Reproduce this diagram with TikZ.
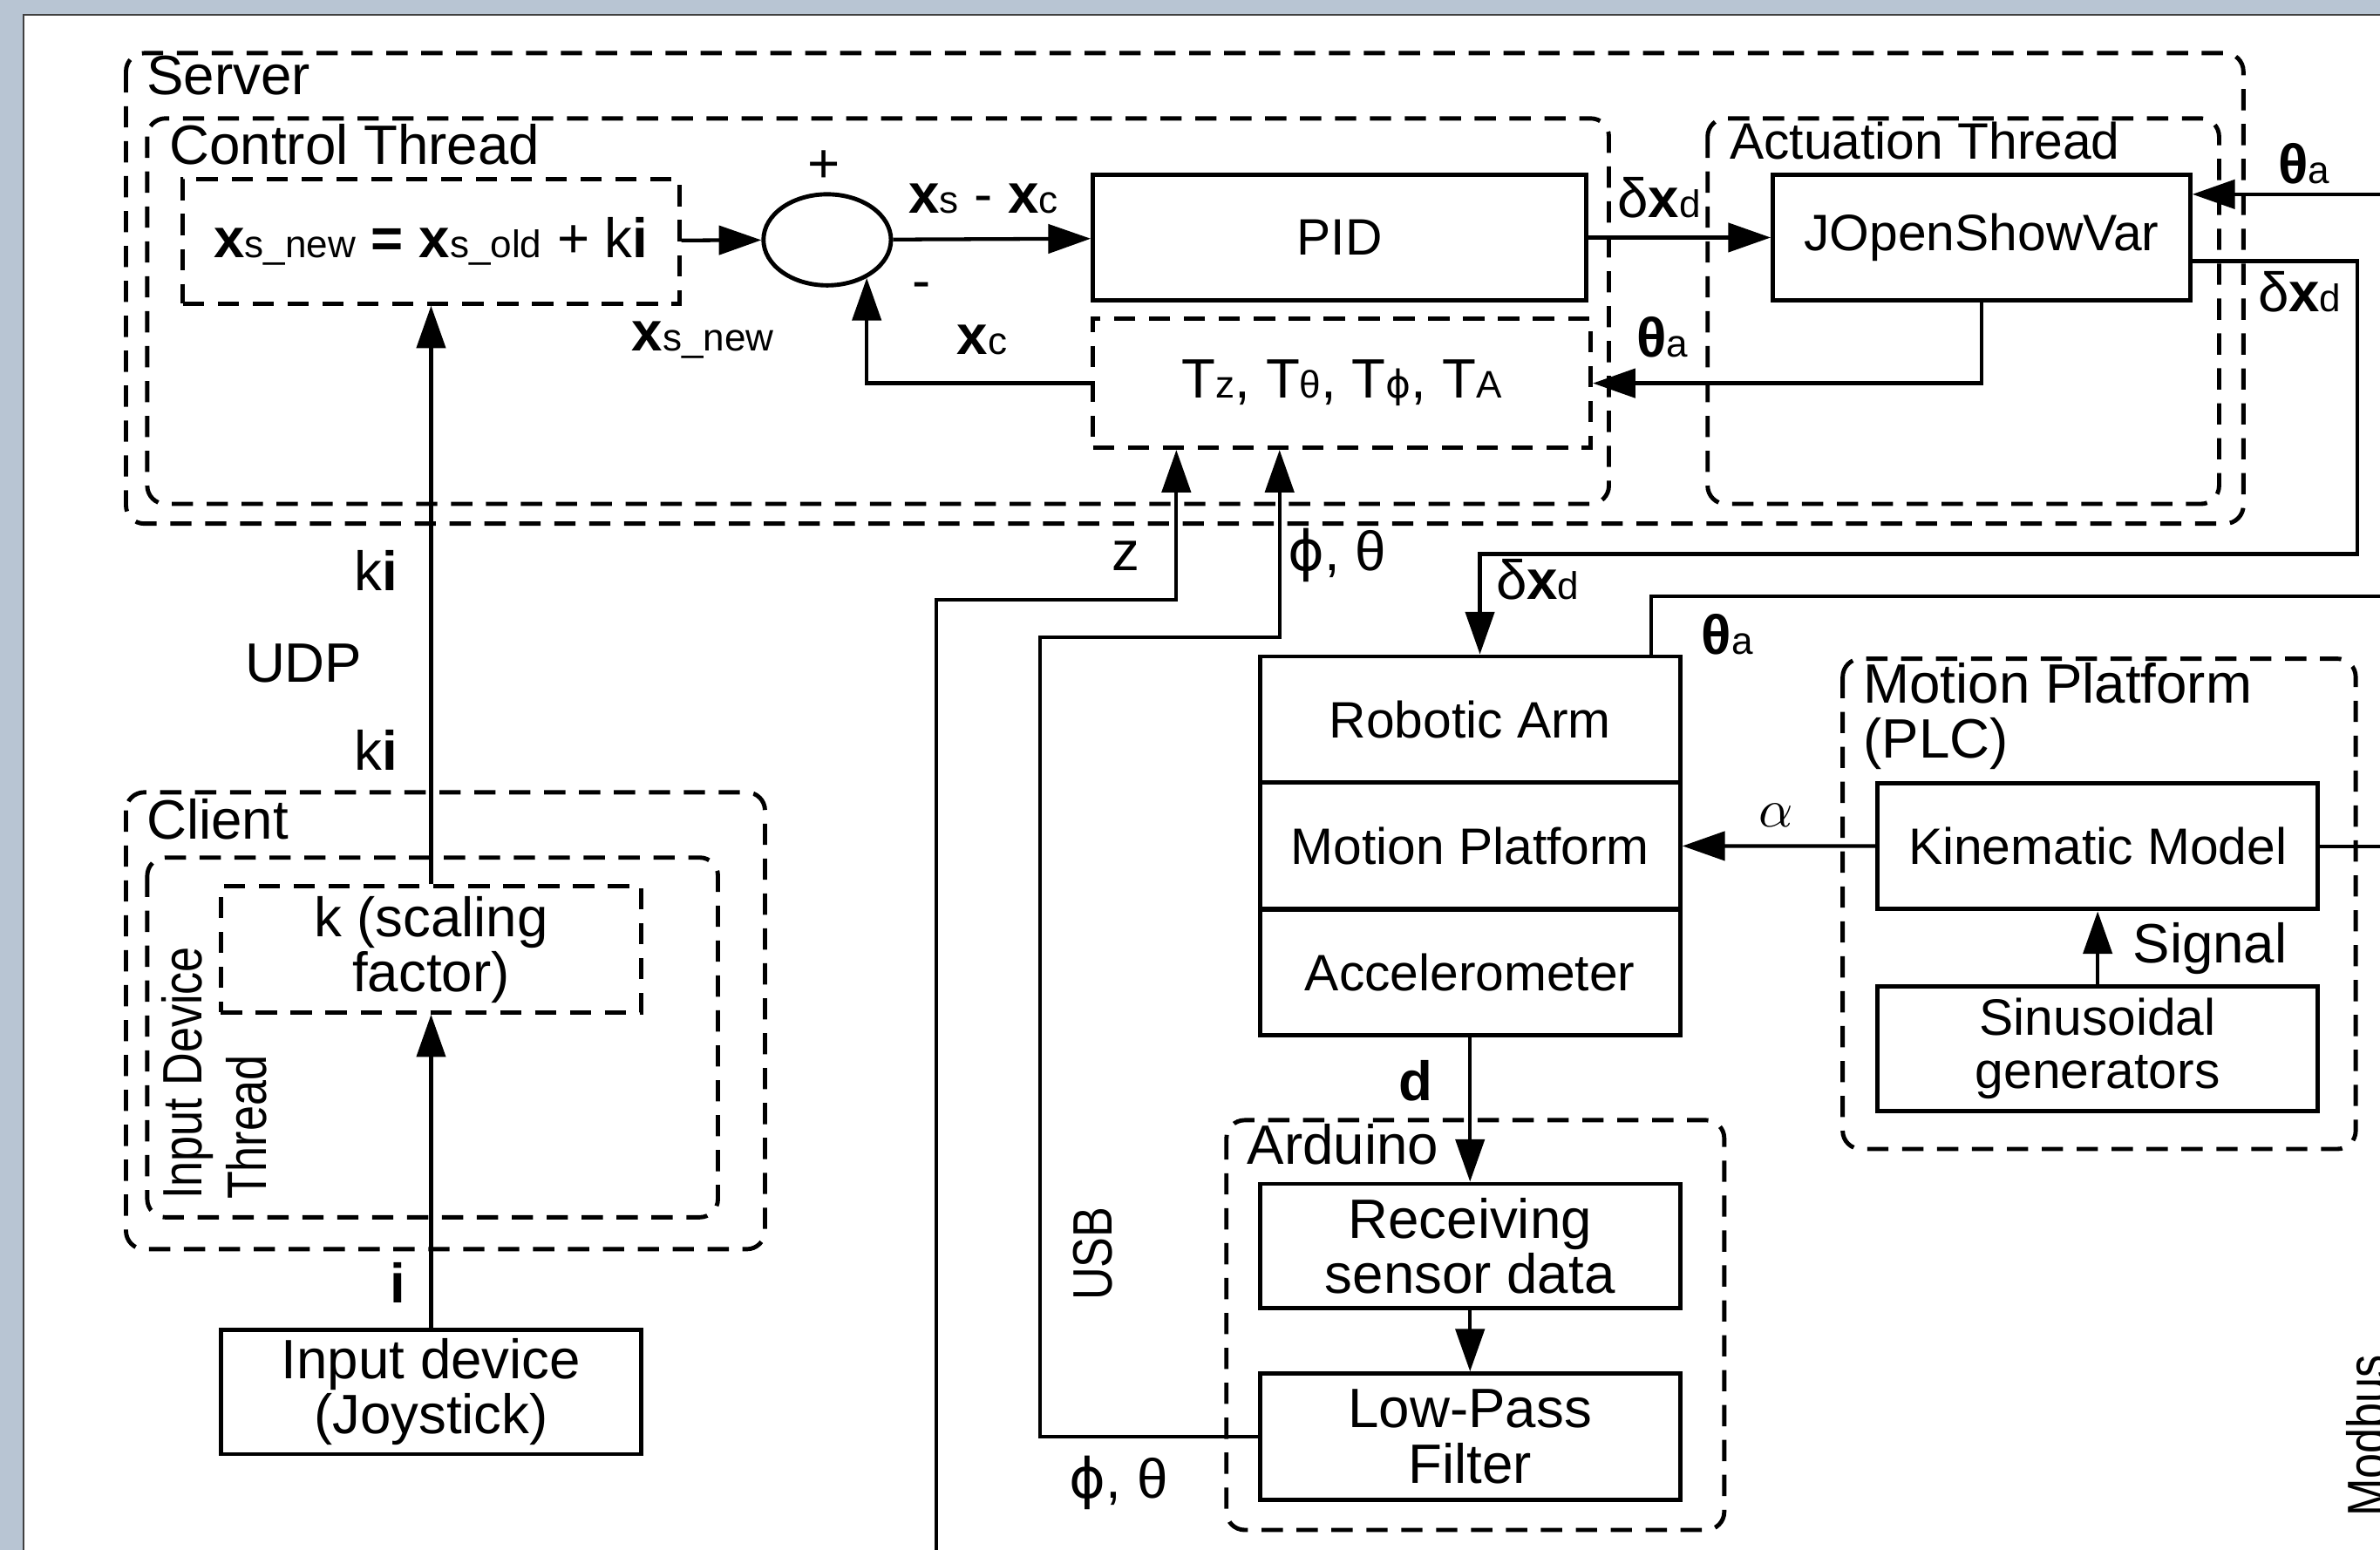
\documentclass[tikz,border=0pt]{standalone}
\usepackage{fontspec}
\setmainfont{Liberation Sans}
\newfontfamily\phifont{DejaVu Sans}
\newfontfamily\narrowfont[FakeStretch=0.82]{Liberation Sans}
\usetikzlibrary{arrows.meta,shapes.geometric}

\newcommand{\mainsize}{\fontsize{10.4pt}{10.3pt}\selectfont}
\newcommand{\boxsize}{\fontsize{9.6pt}{10pt}\selectfont}
\newcommand{\sidesize}{\narrowfont\fontsize{10.4pt}{10.3pt}\selectfont}
\newcommand{\sub}[1]{{\fontsize{7.2pt}{7.2pt}\selectfont #1}}
\newcommand{\bx}{\textbf{x}}
\newcommand{\bth}{\textbf{θ}}
\newcommand{\vphi}{{\phifont ϕ}}

\definecolor{framebg}{RGB}{184,197,211}

\tikzset{
  blk/.style={draw, line width=0.8pt, inner sep=0pt, align=center,
    minimum width=27.7mm, minimum height=8.3mm},
  dblk/.style={blk, dash pattern=on 1.4mm off 0.9mm},
  grp/.style={draw, line width=0.8pt, rounded corners=1.2mm,
    dash pattern=on 1.4mm off 0.9mm},
  flow/.style={line width=0.7pt, -{Triangle[length=2.8mm, width=1.9mm]}},
  wire/.style={line width=0.7pt},
  lbl/.style={inner sep=0pt}
}

\begin{document}
\begin{tikzpicture}[x=0.1mm, y=-0.1mm, font=\mainsize]
  \useasboundingbox (0,0) rectangle (1568,1021);
  \fill[framebg] (0,0) rectangle (1568,1021);
  \fill[white] (15.5,9.7) rectangle (1568,1021);
  \draw[line width=0.4pt, black!75] (15.5,1021) -- (15.5,9.7) -- (1568,9.7);

  % groups
  \draw[grp] (83,35) rectangle (1478,345);
  \draw[grp] (97,78) rectangle (1060,332);
  \draw[grp] (1125,78) rectangle (1462,332);
  \draw[grp] (1214,434) rectangle (1552,757);
  \draw[grp] (808,738) rectangle (1136,1008);
  \draw[grp] (83,522) rectangle (504,823);
  \draw[grp] (97,565) rectangle (473,802);

  \node[lbl, anchor=west] at (96,50) {Server};
  \node[lbl, anchor=west] at (111,95) {Control Thread};
  \node[lbl, anchor=west, font=\boxsize] at (1139,93) {Actuation Thread};
  \node[lbl, anchor=north west, align=left] at (1227,436) {Motion Platform\\(PLC)};
  \node[lbl, anchor=west] at (821,754) {Arduino};
  \node[lbl, anchor=west] at (96,540) {Client};
  \node[lbl, rotate=90, anchor=north west, align=left, font=\sidesize] at (106,791)
    {Input Device\\[0.6mm]Thread};

  % blocks
  \node[dblk, minimum width=32.7mm, minimum height=8.2mm] (eq) at (284,159)
    {\bx\sub{s\_new} \textbf{=} \bx\sub{s\_old} + k\textbf{i}};
  \node[ellipse, draw, line width=0.8pt, inner sep=0pt,
    minimum width=8.4mm, minimum height=6mm] (sum) at (545,158) {};
  \node[blk, minimum width=32.5mm, font=\boxsize] (pid) at (882.5,156.5) {PID};
  \node[dblk, minimum width=32.8mm, minimum height=8.5mm] (tf) at (884,252.5)
    {T\sub{z}, T\sub{θ}, T\sub{\vphi}, T\sub{A}};
  \node[blk, minimum width=27.5mm, font=\boxsize] (josv) at (1305.5,156.5) {JOpenShowVar};

  \node[blk, font=\boxsize] (arm) at (968.5,474) {Robotic Arm};
  \node[blk, font=\boxsize] (plat) at (968.5,557.3) {Motion Platform};
  \node[blk, font=\boxsize] (accel) at (968.5,640.6) {Accelerometer};
  \node[blk, minimum width=29mm, font=\boxsize] (kin) at (1382,557.5) {Kinematic Model};
  \node[blk, minimum width=29mm, minimum height=8.2mm, font=\boxsize] (sine) at (1382,691)
    {Sinusoidal\\generators};
  \node[blk, minimum height=8.2mm] (recv) at (968.5,821) {Receiving\\sensor data};
  \node[blk] (lpf) at (968.5,946.5) {Low-Pass\\Filter};

  \node[dblk] (kbox) at (284,625.5) {k (scaling\\factor)};
  \node[blk, minimum height=8.2mm] (joy) at (284,917) {Input device\\(Joystick)};

  % control loop
  \draw[flow] (eq) -- (sum);
  \draw[flow] (sum) -- (pid);
  \draw[flow] (tf.west) -| (sum.-44);
  \draw[flow] (pid) -- (josv);
  \draw[flow] (josv.south) |- (tf.east);
  \node[lbl] at (543,110) {+};
  \node[lbl] at (607,192) {-};
  \node[lbl] at (648,131) {\bx\sub{s} - \bx\sub{c}};
  \node[lbl] at (463,224) {\bx\sub{s\_new}};
  \node[lbl] at (647,224) {\bx\sub{c}};
  \node[lbl] at (1093,130) {δ\bx\sub{d}};
  \node[lbl] at (1095,222) {\bth\sub{a}};

  % links to the robot side
  \coordinate (thin) at (1570,128);
  \coordinate (dxturn) at (1553,365);
  \coordinate (thout) at (1570,393);
  \coordinate (kinout) at (1570,557.5);
  \draw[flow] (thin) -- (thin -| josv.east);
  \draw[flow] ([yshift=-1.55mm]josv.east) -| (dxturn) -| ([xshift=0.65mm]arm.north);
  \draw[wire] ([xshift=11.95mm]arm.north) |- (thout);
  \draw[wire] (kin.east) -- (kinout);
  \node[lbl] at (1518,108) {\bth\sub{a}};
  \node[lbl] at (1515,192) {δ\bx\sub{d}};
  \node[lbl] at (1013,382) {δ\bx\sub{d}};
  \node[lbl] at (1138,418) {\bth\sub{a}};

  \draw[flow] (kin) -- (plat);
  \draw[flow] (sine) -- (kin);
  \node[lbl] at (1170,537) {$\alpha$};
  \node[lbl] at (1456,625) {Signal};

  % sensor chain
  \draw[flow] (accel) -- (recv);
  \draw[flow] (recv) -- (lpf);
  \node[lbl] at (933,712) {\textbf{d}};

  \coordinate (zfoot) at (617,1030);
  \coordinate (zbend) at (775,395);
  \coordinate (usbup) at (685,420);
  \coordinate (usbbend) at (843,420);
  \draw[flow] (zfoot) |- (zbend) -- (zbend |- tf.south);
  \draw[flow] (lpf.west) -| (usbup) -- (usbbend) -- (usbbend |- tf.south);
  \node[lbl] at (742,366) {z};
  \node[lbl] at (881,366) {\vphi, θ};
  \node[lbl] at (737,977) {\vphi, θ};
  \node[lbl, rotate=90, font=\sidesize] at (720,826) {USB};
  \node[lbl, rotate=90, anchor=north west, font=\sidesize] at (1545,1000) {Modbus};

  % client side
  \draw[flow] (joy) -- (kbox);
  \draw[flow] (kbox) -- (eq);
  \node[lbl] at (248,376) {k\textbf{i}};
  \node[lbl] at (200,437) {UDP};
  \node[lbl] at (248,494) {k\textbf{i}};
  \node[lbl] at (262,845) {\textbf{i}};
\end{tikzpicture}
\end{document}
